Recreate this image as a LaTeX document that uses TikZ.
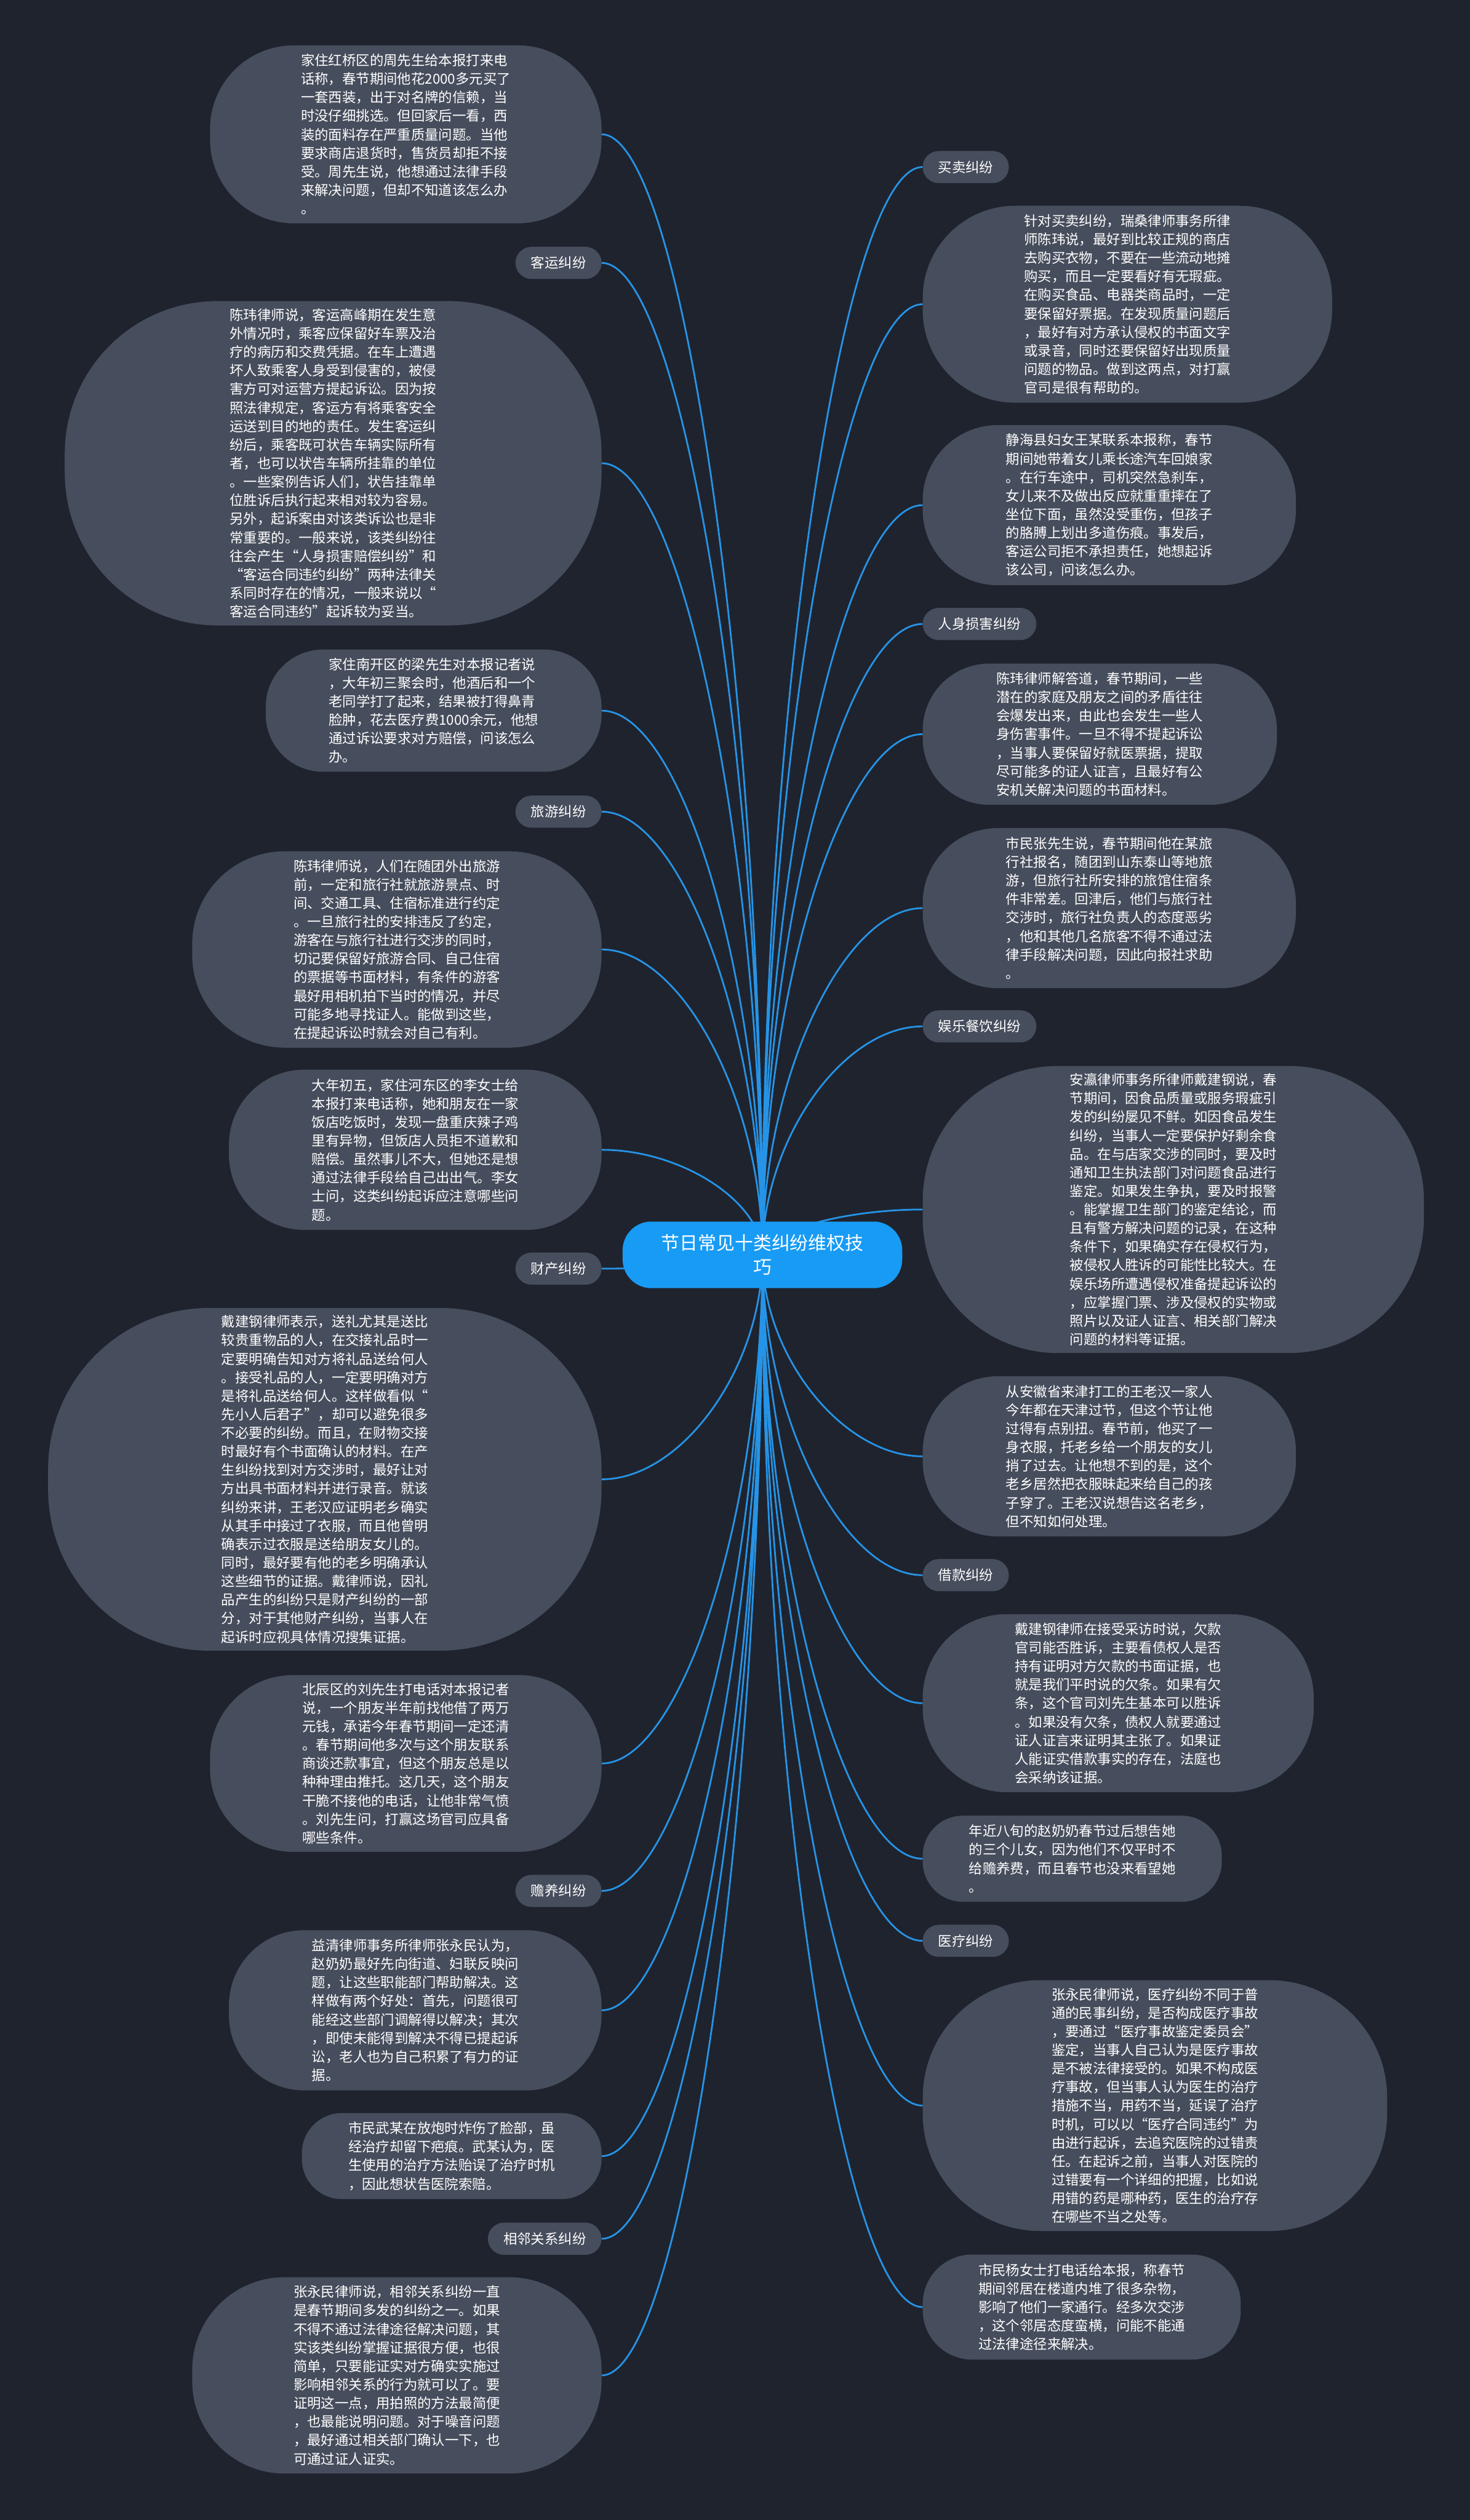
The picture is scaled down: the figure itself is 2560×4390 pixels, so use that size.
\documentclass[tikz,border=0pt]{standalone}
\usepackage{fontspec}
\newfontfamily\cjk{Noto Sans CJK SC}
\usetikzlibrary{positioning}
\usetikzlibrary{calc}
\definecolor{bgnavy}{RGB}{31,35,46}
\definecolor{boxgray}{RGB}{70,77,92}
\definecolor{linkblue}{RGB}{38,148,230}
\definecolor{rootblue}{RGB}{24,155,245}
\pgfdeclarelayer{back}
\pgfsetlayers{back,main}
\tikzset{
  leaf/.style={fill=boxgray, text=white, align=left, inner sep=0pt,
    font=\cjk\fontsize{24}{32.3}\selectfont},
  tag/.style={fill=boxgray, text=white, inner xsep=27pt, inner ysep=0pt,
    minimum height=56pt, rounded corners=28pt,
    font=\cjk\fontsize{24}{30}\selectfont},
  root/.style={fill=rootblue, text=white, align=center, inner sep=0pt,
    minimum width=487pt, minimum height=116pt, rounded corners=50pt,
    font=\cjk\fontsize{32}{42}\selectfont},
  link/.style={draw=linkblue, line width=3pt},
  branch/.style={to path={.. controls ($(\tikztostart)!0.5!(\tikztostart|-\tikztotarget)$)
    and ($(\tikztotarget)!0.5!(\tikztostart|-\tikztotarget)$) .. (\tikztotarget)}}
}
\begin{document}
\begin{tikzpicture}[x=1pt, y=-1pt]
    \useasboundingbox (0,0) rectangle (2560,4390);

    \node[root] (root) at (1328,2186) {节日常见十类纠纷维权技\\巧};

    % left side
    \node[leaf, anchor=east, minimum width=682pt, minimum height=310pt, rounded corners=146pt] (zhou) at (1048,234) {家住红桥区的周先生给本报打来电\\话称，春节期间他花2000多元买了\\一套西装，出于对名牌的信赖，当\\时没仔细挑选。但回家后一看，西\\装的面料存在严重质量问题。当他\\要求商店退货时，售货员却拒不接\\受。周先生说，他想通过法律手段\\来解决问题，但却不知道该怎么办\\。};
    \node[tag, anchor=east] (keyun) at (1048,458) {客运纠纷};
    \node[leaf, anchor=east, minimum width=935pt, minimum height=565pt, rounded corners=266pt] (keyunlaw) at (1048,807) {陈玮律师说，客运高峰期在发生意\\外情况时，乘客应保留好车票及治\\疗的病历和交费凭据。在车上遭遇\\坏人致乘客人身受到侵害的，被侵\\害方可对运营方提起诉讼。因为按\\照法律规定，客运方有将乘客安全\\运送到目的地的责任。发生客运纠\\纷后，乘客既可状告车辆实际所有\\者，也可以状告车辆所挂靠的单位\\。一些案例告诉人们，状告挂靠单\\位胜诉后执行起来相对较为容易。\\另外，起诉案由对该类诉讼也是非\\常重要的。一般来说，该类纠纷往\\往会产生“人身损害赔偿纠纷”和\\“客运合同违约纠纷”两种法律关\\系同时存在的情况，一般来说以“\\客运合同违约”起诉较为妥当。};
    \node[leaf, anchor=east, minimum width=585pt, minimum height=213pt, rounded corners=100pt] (liang) at (1048,1238) {家住南开区的梁先生对本报记者说\\，大年初三聚会时，他酒后和一个\\老同学打了起来，结果被打得鼻青\\脸肿，花去医疗费1000余元，他想\\通过诉讼要求对方赔偿，问该怎么\\办。};
    \node[tag, anchor=east] (lvyou) at (1048,1414) {旅游纠纷};
    \node[leaf, anchor=east, minimum width=713pt, minimum height=342pt, rounded corners=161pt] (lvyoulaw) at (1048,1654) {陈玮律师说，人们在随团外出旅游\\前，一定和旅行社就旅游景点、时\\间、交通工具、住宿标准进行约定\\。一旦旅行社的安排违反了约定，\\游客在与旅行社进行交涉的同时，\\切记要保留好旅游合同、自己住宿\\的票据等书面材料，有条件的游客\\最好用相机拍下当时的情况，并尽\\可能多地寻找证人。能做到这些，\\在提起诉讼时就会对自己有利。};
    \node[leaf, anchor=east, minimum width=649pt, minimum height=279pt, rounded corners=131pt] (li) at (1048,2003) {大年初五，家住河东区的李女士给\\本报打来电话称，她和朋友在一家\\饭店吃饭时，发现一盘重庆辣子鸡\\里有异物，但饭店人员拒不道歉和\\赔偿。虽然事儿不大，但她还是想\\通过法律手段给自己出出气。李女\\士问，这类纠纷起诉应注意哪些问\\题。};
    \node[tag, anchor=east] (caichan) at (1048,2210) {财产纠纷};
    \node[leaf, anchor=east, minimum width=964pt, minimum height=597pt, rounded corners=281pt] (caichanlaw) at (1048,2577) {戴建钢律师表示，送礼尤其是送比\\较贵重物品的人，在交接礼品时一\\定要明确告知对方将礼品送给何人\\。接受礼品的人，一定要明确对方\\是将礼品送给何人。这样做看似“\\先小人后君子”，却可以避免很多\\不必要的纠纷。而且，在财物交接\\时最好有个书面确认的材料。在产\\生纠纷找到对方交涉时，最好让对\\方出具书面材料并进行录音。就该\\纠纷来讲，王老汉应证明老乡确实\\从其手中接过了衣服，而且他曾明\\确表示过衣服是送给朋友女儿的。\\同时，最好要有他的老乡明确承认\\这些细节的证据。戴律师说，因礼\\品产生的纠纷只是财产纠纷的一部\\分，对于其他财产纠纷，当事人在\\起诉时应视具体情况搜集证据。};
    \node[leaf, anchor=east, minimum width=682pt, minimum height=308pt, rounded corners=145pt] (liu) at (1048,3072) {北辰区的刘先生打电话对本报记者\\说，一个朋友半年前找他借了两万\\元钱，承诺今年春节期间一定还清\\。春节期间他多次与这个朋友联系\\商谈还款事宜，但这个朋友总是以\\种种理由推托。这几天，这个朋友\\干脆不接他的电话，让他非常气愤\\。刘先生问，打赢这场官司应具备\\哪些条件。};
    \node[tag, anchor=east] (shanyang) at (1048,3294) {赡养纠纷};
    \node[leaf, anchor=east, minimum width=649pt, minimum height=279pt, rounded corners=131pt] (shanyanglaw) at (1048,3502) {益清律师事务所律师张永民认为，\\赵奶奶最好先向街道、妇联反映问\\题，让这些职能部门帮助解决。这\\样做有两个好处：首先，问题很可\\能经这些部门调解得以解决；其次\\，即使未能得到解决不得已提起诉\\讼，老人也为自己积累了有力的证\\据。};
    \node[leaf, anchor=east, minimum width=522pt, minimum height=150pt, rounded corners=70pt] (wu) at (1048,3756) {市民武某在放炮时炸伤了脸部，虽\\经治疗却留下疤痕。武某认为，医\\生使用的治疗方法贻误了治疗时机\\，因此想状告医院索赔。};
    \node[tag, anchor=east] (xianglin) at (1048,3900) {相邻关系纠纷};
    \node[leaf, anchor=east, minimum width=713pt, minimum height=342pt, rounded corners=161pt] (xianglinlaw) at (1048,4138) {张永民律师说，相邻关系纠纷一直\\是春节期间多发的纠纷之一。如果\\不得不通过法律途径解决问题，其\\实该类纠纷掌握证据很方便，也很\\简单，只要能证实对方确实实施过\\影响相邻关系的行为就可以了。要\\证明这一点，用拍照的方法最简便\\，也最能说明问题。对于噪音问题\\，最好通过相关部门确认一下，也\\可通过证人证实。};

    % right side
    \node[tag, anchor=west] (maimai) at (1607,291) {买卖纠纷};
    \node[leaf, anchor=west, minimum width=713pt, minimum height=343pt, rounded corners=161pt] (maimailaw) at (1607,530) {针对买卖纠纷，瑞桑律师事务所律\\师陈玮说，最好到比较正规的商店\\去购买衣物，不要在一些流动地摊\\购买，而且一定要看好有无瑕疵。\\在购买食品、电器类商品时，一定\\要保留好票据。在发现质量问题后\\，最好有对方承认侵权的书面文字\\或录音，同时还要保留好出现质量\\问题的物品。做到这两点，对打赢\\官司是很有帮助的。};
    \node[leaf, anchor=west, minimum width=650pt, minimum height=279pt, rounded corners=131pt] (wang) at (1607,880) {静海县妇女王某联系本报称，春节\\期间她带着女儿乘长途汽车回娘家\\。在行车途中，司机突然急刹车，\\女儿来不及做出反应就重重摔在了\\坐位下面，虽然没受重伤，但孩子\\的胳膊上划出多道伤痕。事发后，\\客运公司拒不承担责任，她想起诉\\该公司，问该怎么办。};
    \node[tag, anchor=west] (renshen) at (1607,1087) {人身损害纠纷};
    \node[leaf, anchor=west, minimum width=617pt, minimum height=246pt, rounded corners=116pt] (renshenlaw) at (1607,1279) {陈玮律师解答道，春节期间，一些\\潜在的家庭及朋友之间的矛盾往往\\会爆发出来，由此也会发生一些人\\身伤害事件。一旦不得不提起诉讼\\，当事人要保留好就医票据，提取\\尽可能多的证人证言，且最好有公\\安机关解决问题的书面材料。};
    \node[leaf, anchor=west, minimum width=650pt, minimum height=279pt, rounded corners=131pt] (zhang) at (1607,1582) {市民张先生说，春节期间他在某旅\\行社报名，随团到山东泰山等地旅\\游，但旅行社所安排的旅馆住宿条\\件非常差。回津后，他们与旅行社\\交涉时，旅行社负责人的态度恶劣\\，他和其他几名旅客不得不通过法\\律手段解决问题，因此向报社求助\\。};
    \node[tag, anchor=west] (yule) at (1607,1788) {娱乐餐饮纠纷};
    \node[leaf, anchor=west, minimum width=873pt, minimum height=500pt, rounded corners=235pt] (yulelaw) at (1607,2107) {安瀛律师事务所律师戴建钢说，春\\节期间，因食品质量或服务瑕疵引\\发的纠纷屡见不鲜。如因食品发生\\纠纷，当事人一定要保护好剩余食\\品。在与店家交涉的同时，要及时\\通知卫生执法部门对问题食品进行\\鉴定。如果发生争执，要及时报警\\。能掌握卫生部门的鉴定结论，而\\且有警方解决问题的记录，在这种\\条件下，如果确实存在侵权行为，\\被侵权人胜诉的可能性比较大。在\\娱乐场所遭遇侵权准备提起诉讼的\\，应掌握门票、涉及侵权的实物或\\照片以及证人证言、相关部门解决\\问题的材料等证据。};
    \node[leaf, anchor=west, minimum width=650pt, minimum height=279pt, rounded corners=131pt] (laohan) at (1607,2537) {从安徽省来津打工的王老汉一家人\\今年都在天津过节，但这个节让他\\过得有点别扭。春节前，他买了一\\身衣服，托老乡给一个朋友的女儿\\捎了过去。让他想不到的是，这个\\老乡居然把衣服昧起来给自己的孩\\子穿了。王老汉说想告这名老乡，\\但不知如何处理。};
    \node[tag, anchor=west] (jiekuan) at (1607,2744) {借款纠纷};
    \node[leaf, anchor=west, minimum width=681pt, minimum height=310pt, rounded corners=146pt] (jiekuanlaw) at (1607,2967) {戴建钢律师在接受采访时说，欠款\\官司能否胜诉，主要看债权人是否\\持有证明对方欠款的书面证据，也\\就是我们平时说的欠条。如果有欠\\条，这个官司刘先生基本可以胜诉\\。如果没有欠条，债权人就要通过\\证人证言来证明其主张了。如果证\\人能证实借款事实的存在，法庭也\\会采纳该证据。};
    \node[leaf, anchor=west, minimum width=521pt, minimum height=150pt, rounded corners=70pt] (zhao) at (1607,3238) {年近八旬的赵奶奶春节过后想告她\\的三个儿女，因为他们不仅平时不\\给赡养费，而且春节也没来看望她\\。};
    \node[tag, anchor=west] (yiliao) at (1607,3381) {医疗纠纷};
    \node[leaf, anchor=west, minimum width=809pt, minimum height=437pt, rounded corners=205pt] (yiliaolaw) at (1607,3668) {张永民律师说，医疗纠纷不同于普\\通的民事纠纷，是否构成医疗事故\\，要通过“医疗事故鉴定委员会”\\鉴定，当事人自己认为是医疗事故\\是不被法律接受的。如果不构成医\\疗事故，但当事人认为医生的治疗\\措施不当，用药不当，延误了治疗\\时机，可以以“医疗合同违约”为\\由进行起诉，去追究医院的过错责\\任。在起诉之前，当事人对医院的\\过错要有一个详细的把握，比如说\\用错的药是哪种药，医生的治疗存\\在哪些不当之处等。};
    \node[leaf, anchor=west, minimum width=554pt, minimum height=183pt, rounded corners=86pt] (yang) at (1607,4019) {市民杨女士打电话给本报，称春节\\期间邻居在楼道内堆了很多杂物，\\影响了他们一家通行。经多次交涉\\，这个邻居态度蛮横，问能不能通\\过法律途径来解决。};

    \begin{pgfonlayer}{back}
      \fill[bgnavy] (0,0) rectangle (2560,4390);
      \draw[link]
        (root.center) to[branch] (zhou.east)
        (root.center) to[branch] (keyun.east)
        (root.center) to[branch] (keyunlaw.east)
        (root.center) to[branch] (liang.east)
        (root.center) to[branch] (lvyou.east)
        (root.center) to[branch] (lvyoulaw.east)
        (root.center) to[branch] (li.east)
        (root.center) to[branch] (caichan.east)
        (root.center) to[branch] (caichanlaw.east)
        (root.center) to[branch] (liu.east)
        (root.center) to[branch] (shanyang.east)
        (root.center) to[branch] (shanyanglaw.east)
        (root.center) to[branch] (wu.east)
        (root.center) to[branch] (xianglin.east)
        (root.center) to[branch] (xianglinlaw.east);
      \draw[link]
        (root.center) to[branch] (maimai.west)
        (root.center) to[branch] (maimailaw.west)
        (root.center) to[branch] (wang.west)
        (root.center) to[branch] (renshen.west)
        (root.center) to[branch] (renshenlaw.west)
        (root.center) to[branch] (zhang.west)
        (root.center) to[branch] (yule.west)
        (root.center) to[branch] (yulelaw.west)
        (root.center) to[branch] (laohan.west)
        (root.center) to[branch] (jiekuan.west)
        (root.center) to[branch] (jiekuanlaw.west)
        (root.center) to[branch] (zhao.west)
        (root.center) to[branch] (yiliao.west)
        (root.center) to[branch] (yiliaolaw.west)
        (root.center) to[branch] (yang.west);
    \end{pgfonlayer}
\end{tikzpicture}
\end{document}
